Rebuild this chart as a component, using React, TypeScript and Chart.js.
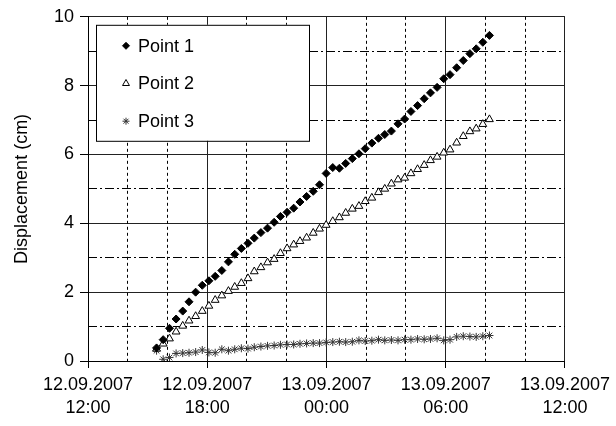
import React, { useEffect, useRef } from 'react';
import { Chart, registerables } from 'chart.js';
import { drawPoint } from 'chart.js/helpers';

Chart.register(...registerables);

// Measurement times (12.09.2007 – 13.09.2007)
const times = [
  '12 15:27', '12 15:47', '12 16:06', '12 16:26', '12 16:46', '12 17:05', '12 17:25', '12 17:45',
  '12 18:05', '12 18:24', '12 18:44', '12 19:04', '12 19:23', '12 19:43', '12 20:03', '12 20:22',
  '12 20:42', '12 21:02', '12 21:22', '12 21:41', '12 22:01', '12 22:21', '12 22:40', '12 23:00',
  '12 23:20', '12 23:39', '12 23:59', '13 00:19', '13 00:39', '13 00:58', '13 01:18', '13 01:38',
  '13 01:57', '13 02:17', '13 02:37', '13 02:56', '13 03:16', '13 03:36', '13 03:56', '13 04:15',
  '13 04:35', '13 04:55', '13 05:14', '13 05:34', '13 05:54', '13 06:13', '13 06:33', '13 06:53',
  '13 07:13', '13 07:32', '13 07:52', '13 08:12',
];

const point1 = [
  0.38, 0.62, 0.95, 1.22, 1.45, 1.72, 2.0, 2.2, 2.33, 2.46, 2.63, 2.88, 3.1, 3.27, 3.42, 3.57,
  3.73, 3.86, 4.03, 4.2, 4.32, 4.44, 4.62, 4.78, 4.93, 5.12, 5.45, 5.62, 5.6, 5.74, 5.88, 6.02,
  6.17, 6.33, 6.47, 6.58, 6.68, 6.89, 7.03, 7.25, 7.42, 7.62, 7.79, 7.95, 8.2, 8.32, 8.52, 8.73,
  8.93, 9.07, 9.26, 9.46,
];

const point2 = [
  0.35, 0.5, 0.65, 0.85, 1.02, 1.17, 1.3, 1.45, 1.6, 1.77, 1.9, 2.03, 2.15, 2.26, 2.4, 2.6,
  2.72, 2.86, 2.96, 3.13, 3.27, 3.38, 3.48, 3.58, 3.72, 3.84, 3.95, 4.06, 4.17, 4.3, 4.42, 4.5,
  4.64, 4.74, 4.9, 5.0, 5.15, 5.27, 5.32, 5.45, 5.57, 5.69, 5.83, 5.93, 6.05, 6.14, 6.34, 6.53,
  6.67, 6.75, 6.88, 7.02,
];

const point3 = [
  0.3, 0.05, 0.1, 0.22, 0.23, 0.24, 0.26, 0.32, 0.25, 0.24, 0.34, 0.3, 0.34, 0.37, 0.36, 0.4,
  0.42, 0.44, 0.45, 0.47, 0.48, 0.48, 0.5, 0.51, 0.52, 0.52, 0.54, 0.55, 0.56, 0.55, 0.56, 0.6,
  0.58, 0.59, 0.62, 0.6, 0.61, 0.6, 0.62, 0.62, 0.64, 0.63, 0.64, 0.66, 0.6, 0.62, 0.7, 0.72,
  0.71, 0.7, 0.72, 0.74,
];

const seriesLabels = ['Point 1', 'Point 2', 'Point 3'];

// Axis ticks (hours since 12.09.2007 00:00)
const xMin = 12;
const xMax = 36;
const xMajorStep = 6;
const xMinorGrid = [14, 16, 20, 22, 26, 28, 32, 34];
const yMin = 0;
const yMax = 10;
const yMajorStep = 2;
const yMinorGrid = [1, 3, 5, 7, 9];
const yTitle = 'Displacement (cm)';

const FONT = '"Liberation Sans", Arial, sans-serif';

function toHours(t: string): number {
  const [d, hm] = t.split(' ');
  const [h, m] = hm.split(':').map(Number);
  return (Number(d) - 12) * 24 + h + m / 60;
}

function xLabel(v: number): string[] {
  const day = 12 + Math.floor(v / 24);
  const hour = Math.round(v - Math.floor(v / 24) * 24);
  const dd = String(day).padStart(2, '0');
  const hh = String(hour).padStart(2, '0');
  return [`${dd}.09.2007`, `${hh}:00`];
}

const minorGridPlugin = {
  id: 'minorGrid',
  beforeDatasetsDraw(chart: any) {
    const { ctx, chartArea: a, scales } = chart;
    const x = scales.x;
    const y = scales.y;
    ctx.save();
    ctx.strokeStyle = '#000';
    ctx.lineWidth = 1;
    ctx.setLineDash([3, 3]);
    for (const h of xMinorGrid) {
      const px = Math.round(x.getPixelForValue(h) - 0.5) + 0.5;
      ctx.beginPath();
      ctx.moveTo(px, a.top);
      ctx.lineTo(px, a.bottom);
      ctx.stroke();
    }
    ctx.setLineDash([9, 3, 2, 3]);
    for (const v of yMinorGrid) {
      const py = Math.round(y.getPixelForValue(v) - 0.5) + 0.5;
      ctx.beginPath();
      ctx.moveTo(a.left, py);
      ctx.lineTo(a.right, py);
      ctx.stroke();
    }
    ctx.restore();
  },
};

const legendBoxPlugin = {
  id: 'legendBox',
  afterDatasetsDraw(chart: any) {
    const { ctx, chartArea: a } = chart;
    const bx = a.left + 8;
    const by = a.top + 8;
    const bw = 213;
    const bh = 116;
    ctx.save();
    ctx.fillStyle = '#fff';
    ctx.fillRect(bx, by, bw, bh);
    ctx.strokeStyle = '#000';
    ctx.lineWidth = 1;
    ctx.setLineDash([]);
    ctx.strokeRect(bx + 0.5, by + 0.5, bw, bh);
    chart.data.datasets.forEach((ds: any, i: number) => {
      const cy = by + 21 + i * 37.7;
      ctx.fillStyle = ds.pointBackgroundColor;
      ctx.strokeStyle = ds.pointBorderColor;
      ctx.lineWidth = ds.pointBorderWidth;
      drawPoint(
        ctx,
        { pointStyle: ds.pointStyle, radius: ds.pointRadius - 0.5, rotation: 0, borderWidth: ds.pointBorderWidth },
        bx + 30,
        cy
      );
      ctx.fillStyle = '#000';
      ctx.font = `18px ${FONT}`;
      ctx.textBaseline = 'middle';
      ctx.textAlign = 'left';
      ctx.fillText(ds.label, bx + 42, cy + 1);
    });
    ctx.restore();
  },
};

export default function App() {
  const canvasRef = useRef<HTMLCanvasElement | null>(null);

  useEffect(() => {
    const canvas = canvasRef.current;
    if (!canvas) return;
    const xs = times.map(toHours);
    const mk = (vals: number[]) => vals.map((v, i) => ({ x: xs[i], y: v }));

    const chart = new Chart(canvas, {
      type: 'scatter',
      data: {
        datasets: [
          {
            label: seriesLabels[0],
            data: mk(point1),
            showLine: false,
            pointStyle: 'rectRot',
            pointRadius: 4,
            pointBackgroundColor: '#000',
            pointBorderColor: '#000',
            pointBorderWidth: 1,
          },
          {
            label: seriesLabels[1],
            data: mk(point2),
            showLine: false,
            pointStyle: 'triangle',
            pointRadius: 4.5,
            pointBackgroundColor: '#fff',
            pointBorderColor: '#000',
            pointBorderWidth: 1,
          },
          {
            label: seriesLabels[2],
            data: mk(point3),
            showLine: false,
            pointStyle: 'star',
            pointRadius: 4,
            pointBackgroundColor: '#333',
            pointBorderColor: '#333',
            pointBorderWidth: 1,
          },
        ] as any,
      },
      options: {
        animation: false,
        responsive: false,
        events: [],
        layout: { padding: { top: 13, right: 48, left: 0, bottom: 0 } },
        plugins: {
          legend: { display: false },
          tooltip: { enabled: false },
        },
        scales: {
          x: {
            type: 'linear',
            min: xMin,
            max: xMax,
            afterFit: (s: any) => {
              s.height = 65;
            },
            ticks: {
              stepSize: xMajorStep,
              autoSkip: false,
              maxRotation: 0,
              padding: 6,
              color: '#000',
              font: { family: FONT, size: 18, lineHeight: 1.25 },
              callback: (v: any) => xLabel(Number(v)),
            },
            grid: {
              color: '#222',
              lineWidth: 1,
              tickLength: 7,
              tickColor: '#000',
            },
            border: { color: '#000', width: 1 },
          },
          y: {
            type: 'linear',
            min: yMin,
            max: yMax,
            afterFit: (s: any) => {
              s.width = 88;
            },
            ticks: {
              stepSize: yMajorStep,
              padding: 6,
              color: '#000',
              font: { family: FONT, size: 18 },
            },
            grid: {
              color: '#222',
              lineWidth: 1,
              tickLength: 8,
              tickColor: '#000',
            },
            border: { color: '#000', width: 1 },
            title: {
              display: true,
              text: yTitle,
              color: '#000',
              font: { family: FONT, size: 18 },
              padding: { top: 11, bottom: 0 },
            },
          },
        },
      },
      plugins: [minorGridPlugin, legendBoxPlugin],
    });

    return () => chart.destroy();
  }, []);

  return (
    <div
      style={{
        position: 'absolute',
        left: 0,
        top: 0,
        width: 616,
        height: 426,
        overflow: 'hidden',
        background: '#fff',
      }}
    >
      <canvas ref={canvasRef} width={616} height={426} style={{ display: 'block' }} />
    </div>
  );
}
